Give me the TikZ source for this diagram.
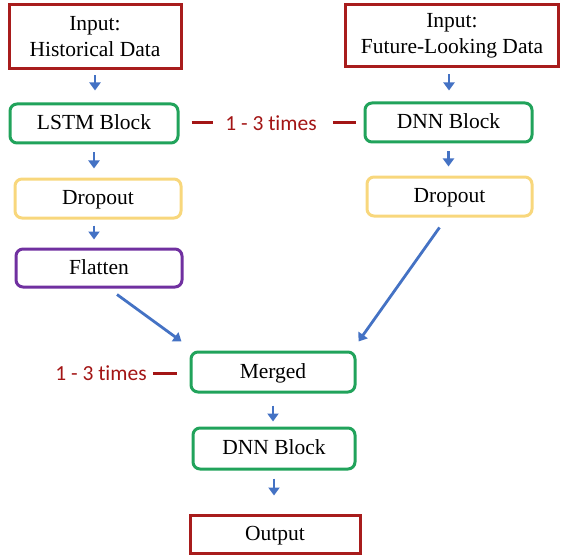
\documentclass[tikz,border=0pt]{standalone}
\usepackage{fontspec}
\setmainfont{Liberation Serif}
\newfontfamily\notefont[Ligatures=NoCommon]{Carlito}
\usetikzlibrary{arrows.meta, positioning, calc}
\definecolor{inred}{HTML}{A81C1C}
\definecolor{blkgreen}{HTML}{21A35B}
\definecolor{dropyellow}{HTML}{F8D77C}
\definecolor{flatpurple}{HTML}{7030A0}
\definecolor{arrblue}{HTML}{4472C4}
\definecolor{notered}{HTML}{A31515}

\begin{document}
\begin{tikzpicture}[x=1pt, y=-1pt, font=\fontsize{21.5}{26}\selectfont,
    io/.style={draw=inred, line width=3pt, align=center, inner sep=0pt},
    blk/.style={draw, line width=3pt, rounded corners=7pt, align=center, inner sep=0pt,
        minimum height=39pt, text height=14pt, text depth=2pt},
    arr/.style={draw=arrblue, line width=2.8pt, -{Triangle[length=8pt, width=11pt]}, shorten <=7pt, shorten >=10pt},
    rep/.style={draw=notered, line width=3pt},
    note/.style={text=notered, font=\notefont\fontsize{21.5}{26}\selectfont, inner sep=0pt}]
    \useasboundingbox (0,0) rectangle (564,556);

    % inputs
    \node[io, minimum width=172pt, minimum height=64pt] (hist) at (95,37) {Input:\\Historical Data};
    \node[io, minimum width=213pt, minimum height=62pt] (fut) at (452,36) {Input:\\Future-Looking Data};

    % left branch
    \node[blk, draw=blkgreen, minimum width=168pt] (lstm) at (94,123.5) {LSTM Block};
    \node[blk, draw=dropyellow, minimum width=166pt] (dropl) at (98,198.5) {Dropout};
    \node[blk, draw=flatpurple, minimum width=166pt, minimum height=38pt] (flat) at (99,268) {Flatten};

    % right branch
    \node[blk, draw=blkgreen, minimum width=167pt] (dnnr) at (448.5,122.5) {DNN Block};
    \node[blk, draw=dropyellow, minimum width=165pt] (dropr) at (449.5,196.5) {Dropout};

    % joint part
    \node[blk, draw=blkgreen, minimum width=164pt, minimum height=40pt] (merged) at (273,372) {Merged};
    \node[blk, draw=blkgreen, minimum width=162pt, minimum height=41pt] (dnnm) at (274,448.5) {DNN Block};
    \node[io, minimum width=170pt, minimum height=38pt, text height=14pt, text depth=2pt] (out) at (275,534) {Output};

    % repeat notes
    \node[note] (timestop) at (271,123) {1 - 3 times};
    \node[note] (timesmid) at (101,373) {1 - 3 times};
    \draw[rep, shorten <=12pt, shorten >=12pt] (lstm.east |- timestop.west) -- (timestop.west);
    \draw[rep, shorten <=16pt, shorten >=8pt] (timestop.east) -- (dnnr.west |- timestop.east);
    \draw[rep, shorten <=6pt, shorten >=13pt] (timesmid.east) -- (merged.west |- timesmid.east);

    % arrows
    \draw[arr, shorten <=5pt, shorten >=12pt] (hist.south) -- (hist.south |- lstm.north);
    \draw[arr, shorten <=8pt, shorten >=9pt] (lstm.south) -- (lstm.south |- dropl.north);
    \draw[arr, shorten <=6pt, shorten >=8pt] ([xshift=-4pt]dropl.south) -- ([xshift=-4pt]dropl.south |- flat.north);
    \draw[arr, shorten <=6pt, shorten >=11pt] ([xshift=-3pt]fut.south) -- ([xshift=-3pt]fut.south |- dnnr.north);
    \draw[arr, shorten <=8pt, shorten >=9pt] (dnnr.south) -- (dnnr.south |- dropr.north);
    \draw[arr, shorten <=0pt, shorten >=0pt] ([xshift=18pt, yshift=-6pt]flat.south) -- ([xshift=-8pt, yshift=9pt]merged.north west);
    \draw[arr, shorten <=0pt, shorten >=0pt] ([xshift=-10pt, yshift=-10pt]dropr.south) -- ([xshift=2pt, yshift=9pt]merged.north east);
    \draw[arr, shorten <=12pt, shorten >=5pt] (merged.south) -- (merged.south |- dnnm.north);
    \draw[arr, shorten <=8pt, shorten >=18pt] (dnnm.south) -- (dnnm.south |- out.north);
\end{tikzpicture}
\end{document}
